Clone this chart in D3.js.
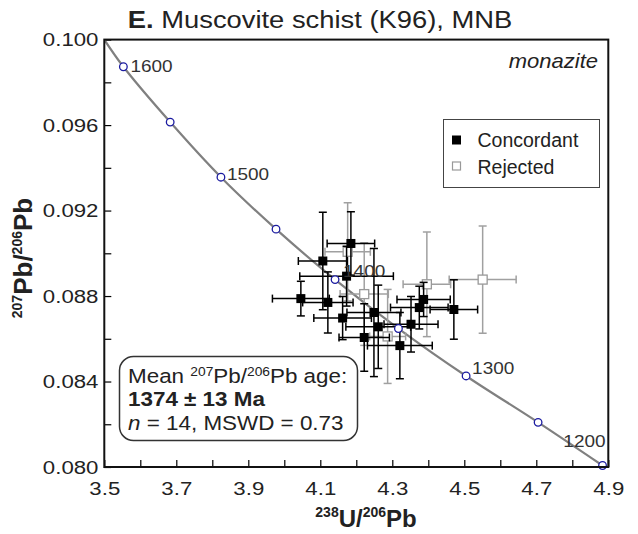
<!DOCTYPE html>
<html>
<head>
<meta charset="utf-8">
<script src="https://cdn.jsdelivr.net/npm/d3@7"></script>
<style>
  body { margin: 0; background: #fff; }
  svg { font-family: "Liberation Sans", Arial, sans-serif; }
</style>
</head>
<body>
<script>
// concordia age markers
var ages = [1600, 1550, 1500, 1450, 1400, 1350, 1300, 1250, 1200];
var ageX = [3.553, 3.683, 3.824, 3.977, 4.141, 4.317, 4.505, 4.705, 4.884];
var ageY = [0.09873, 0.09614, 0.09356, 0.09113, 0.08877, 0.08648, 0.08426, 0.08209, 0.08007];
var labelledAges = [1600, 1500, 1400, 1300, 1200];
// curve start at the top-left corner
var curveStartX = 3.5, curveStartY = 0.1000;

// concordant analyses
var concX    = [4.107, 4.185, 4.173, 4.046, 4.121, 4.162, 4.249, 4.222, 4.261, 4.321, 4.352, 4.387, 4.375, 4.471];
var concY    = [0.08964, 0.09046, 0.08893, 0.08788, 0.08770, 0.08697, 0.08723, 0.08606, 0.08656, 0.08568, 0.08668, 0.08784, 0.08746, 0.08737];
var concXErr = [0.068, 0.066, 0.13, 0.079, 0.07, 0.08, 0.075, 0.07, 0.09, 0.09, 0.075, 0.074, 0.08, 0.066];
var concYErr = [0.00228, 0.00148, 0.0014, 0.00081, 0.00143, 0.00101, 0.0030, 0.00158, 0.00195, 0.00155, 0.0013, 0.0008, 0.0010, 0.00139];

// rejected analyses
var rejX    = [4.176, 4.222, 4.287, 4.396, 4.551];
var rejY    = [0.09007, 0.08809, 0.08611, 0.08855, 0.08877];
var rejXErr = [0.063, 0.067, 0.05, 0.066, 0.093];
var rejYErr = [0.0023, 0.0024, 0.0022, 0.00245, 0.00251];

var xTicks = [3.5, 3.6, 3.7, 3.8, 3.9, 4.0, 4.1, 4.2, 4.3, 4.4, 4.5, 4.6, 4.7, 4.8, 4.9];
var xTickLabels = [3.5, 3.7, 3.9, 4.1, 4.3, 4.5, 4.7, 4.9];
var yTicks = [0.080, 0.082, 0.084, 0.086, 0.088, 0.090, 0.092, 0.094, 0.096, 0.098, 0.100];
var yTickLabels = [0.080, 0.084, 0.088, 0.092, 0.096, 0.100];

var W = 638, H = 534;
var x = d3.scaleLinear().domain([3.5, 4.9]).range([104.3, 608.3]);
var y = d3.scaleLinear().domain([0.080, 0.100]).range([467, 39.6]);
var SX = 1.17; // horizontal stretch of the lettering

var svg = d3.select("body").append("svg").attr("width", W).attr("height", H);

svg.append("clipPath").attr("id", "plot")
  .append("rect").attr("x", 104.3).attr("y", 39.6).attr("width", 504).attr("height", 427.4);

// title
var title = svg.append("text").attr("transform", "translate(320,28) scale(1.14,1)")
  .attr("text-anchor", "middle").attr("font-size", 24).attr("fill", "#222");
title.append("tspan").attr("font-weight", "bold").text("E.");
title.append("tspan").text(" Muscovite schist (K96), MNB");

// ticks
svg.append("g").attr("transform", "translate(0,467)")
  .call(d3.axisBottom(x).tickValues(xTicks).tickSize(-7).tickFormat(""))
  .call(function (g) { g.select(".domain").remove(); g.selectAll("line").attr("stroke-width", 1.2); });
svg.append("g").attr("transform", "translate(104.3,0)")
  .call(d3.axisLeft(y).tickValues(yTicks).tickSize(-7).tickFormat(""))
  .call(function (g) { g.select(".domain").remove(); g.selectAll("line").attr("stroke-width", 1.2); });

// tick labels
var xl = svg.append("g").attr("transform", "translate(0,467)")
  .call(d3.axisBottom(x).tickValues(xTickLabels).tickSize(0).tickPadding(14.5).tickFormat(d3.format(".1f")));
xl.select(".domain").remove();
xl.selectAll("text").attr("font-size", 19).attr("font-family", "Liberation Sans, Arial").attr("fill", "#222")
  .attr("transform", "scale(" + SX + ",1)");

var yl = svg.append("g").attr("transform", "translate(104.3,0)")
  .call(d3.axisLeft(y).tickValues(yTickLabels).tickSize(0).tickPadding(5).tickFormat(d3.format(".3f")));
yl.select(".domain").remove();
yl.selectAll("text").attr("font-size", 19).attr("font-family", "Liberation Sans, Arial").attr("fill", "#222")
  .attr("transform", "scale(" + SX + ",1)");

// axis titles
var xt = svg.append("text").attr("transform", "translate(366,527)")
  .attr("text-anchor", "middle").attr("font-weight", "bold").attr("font-size", 24).attr("fill", "#222");
xt.append("tspan").attr("font-size", 14).attr("dy", -10).text("238");
xt.append("tspan").attr("dy", 10).text("U/");
xt.append("tspan").attr("font-size", 14).attr("dy", -10).text("206");
xt.append("tspan").attr("dy", 10).text("Pb");

var yt = svg.append("text").attr("transform", "translate(32,258) rotate(-90)")
  .attr("text-anchor", "middle").attr("font-weight", "bold").attr("font-size", 26).attr("fill", "#222");
yt.append("tspan").attr("font-size", 14).attr("dy", -10).text("207");
yt.append("tspan").attr("dy", 10).text("Pb/");
yt.append("tspan").attr("font-size", 14).attr("dy", -10).text("206");
yt.append("tspan").attr("dy", 10).text("Pb");

var plot = svg.append("g").attr("clip-path", "url(#plot)");

// concordia
var curvePts = [[curveStartX, curveStartY]].concat(ageX.map(function (v, i) { return [v, ageY[i]]; }));
plot.append("path").datum(curvePts)
  .attr("d", d3.line().x(function (d) { return x(d[0]); }).y(function (d) { return y(d[1]); }).curve(d3.curveCatmullRom))
  .attr("fill", "none").attr("stroke", "#808080").attr("stroke-width", 2.2);

// age labels
var labelOffset = { 1600: [7, 5, "start"], 1500: [6, 3, "start"], 1400: [8, -3, "start"], 1300: [6, -2, "start"], 1200: [3, -19, "end"] };
labelledAges.forEach(function (a) {
  var i = ages.indexOf(a), o = labelOffset[a];
  svg.append("text")
    .attr("transform", "translate(" + (x(ageX[i]) + o[0]) + "," + (y(ageY[i]) + o[1]) + ") scale(1.15,1)")
    .attr("text-anchor", o[2]).attr("font-size", 16.5).attr("fill", "#333").text(a);
});

function errorBars(g, xs, ys, xe, ye, col) {
  var cap = 4;
  xs.forEach(function (v, i) {
    var cx = x(v), cy = y(ys[i]);
    var x0 = x(v - xe[i]), x1 = x(v + xe[i]);
    var y0 = y(ys[i] - ye[i]), y1 = y(ys[i] + ye[i]);
    var b = g.append("g").attr("stroke", col).attr("stroke-width", 1.5);
    b.append("line").attr("x1", x0).attr("x2", x1).attr("y1", cy).attr("y2", cy);
    b.append("line").attr("x1", cx).attr("x2", cx).attr("y1", y0).attr("y2", y1);
    b.append("line").attr("x1", x0).attr("x2", x0).attr("y1", cy - cap).attr("y2", cy + cap);
    b.append("line").attr("x1", x1).attr("x2", x1).attr("y1", cy - cap).attr("y2", cy + cap);
    b.append("line").attr("x1", cx - cap).attr("x2", cx + cap).attr("y1", y0).attr("y2", y0);
    b.append("line").attr("x1", cx - cap).attr("x2", cx + cap).attr("y1", y1).attr("y2", y1);
  });
}

var rej = plot.append("g");
errorBars(rej, rejX, rejY, rejXErr, rejYErr, "#a0a0a0");
rej.selectAll("rect").data(rejX).join("rect")
  .attr("x", function (d) { return x(d) - 4.5; })
  .attr("y", function (d, i) { return y(rejY[i]) - 4.5; })
  .attr("width", 9).attr("height", 9)
  .attr("fill", "#fff").attr("stroke", "#999").attr("stroke-width", 1.3);

var conc = plot.append("g");
errorBars(conc, concX, concY, concXErr, concYErr, "#000");
conc.selectAll("rect").data(concX).join("rect")
  .attr("x", function (d) { return x(d) - 4.5; })
  .attr("y", function (d, i) { return y(concY[i]) - 4.5; })
  .attr("width", 9).attr("height", 9).attr("fill", "#000");

// age markers on top
svg.append("g").selectAll("circle").data(ageX).join("circle")
  .attr("cx", function (d) { return x(d); })
  .attr("cy", function (d, i) { return y(ageY[i]); })
  .attr("r", 3.8).attr("fill", "#fff").attr("stroke", "#1a1aa0").attr("stroke-width", 1.3);

// frame
svg.append("rect").attr("x", 104.3).attr("y", 39.6).attr("width", 504).attr("height", 427.4)
  .attr("fill", "none").attr("stroke", "#111").attr("stroke-width", 2);

// mineral label
svg.append("text").attr("transform", "translate(598,68) scale(1.1,1)")
  .attr("text-anchor", "end").attr("font-size", 20).attr("font-style", "italic").attr("fill", "#222").text("monazite");

// legend
var lg = svg.append("g");
lg.append("rect").attr("x", 443.5).attr("y", 119.5).attr("width", 156).attr("height", 68)
  .attr("fill", "#fff").attr("stroke", "#444").attr("stroke-width", 1);
lg.append("rect").attr("x", 452).attr("y", 135.5).attr("width", 9).attr("height", 9).attr("fill", "#000");
lg.append("rect").attr("x", 452.5).attr("y", 162).attr("width", 8).attr("height", 8)
  .attr("fill", "#fff").attr("stroke", "#999").attr("stroke-width", 1.2);
lg.append("text").attr("x", 477.5).attr("y", 146.5).attr("font-size", 19.5).attr("fill", "#222").text("Concordant");
lg.append("text").attr("x", 477.5).attr("y", 173.5).attr("font-size", 19.5).attr("fill", "#222").text("Rejected");

// result box
var bx = svg.append("g");
bx.append("rect").attr("x", 119.5).attr("y", 356.5).attr("width", 238).attr("height", 84).attr("rx", 14)
  .attr("fill", "#fff").attr("stroke", "#333").attr("stroke-width", 1.5);
var l1 = bx.append("text").attr("transform", "translate(128,383) scale(1.15,1)").attr("font-size", 19.5).attr("fill", "#222");
l1.append("tspan").text("Mean ");
l1.append("tspan").attr("font-size", 12).attr("dy", -7).text("207");
l1.append("tspan").attr("dy", 7).text("Pb/");
l1.append("tspan").attr("font-size", 12).attr("dy", -7).text("206");
l1.append("tspan").attr("dy", 7).text("Pb age:");
bx.append("text").attr("transform", "translate(128,406) scale(1.15,1)").attr("font-size", 19.5)
  .attr("font-weight", "bold").attr("fill", "#222").text("1374 ± 13 Ma");
var l3 = bx.append("text").attr("transform", "translate(128,430) scale(1.15,1)").attr("font-size", 19.5).attr("fill", "#222");
l3.append("tspan").attr("font-style", "italic").text("n");
l3.append("tspan").text(" = 14, MSWD = 0.73");
</script>
</body>
</html>
